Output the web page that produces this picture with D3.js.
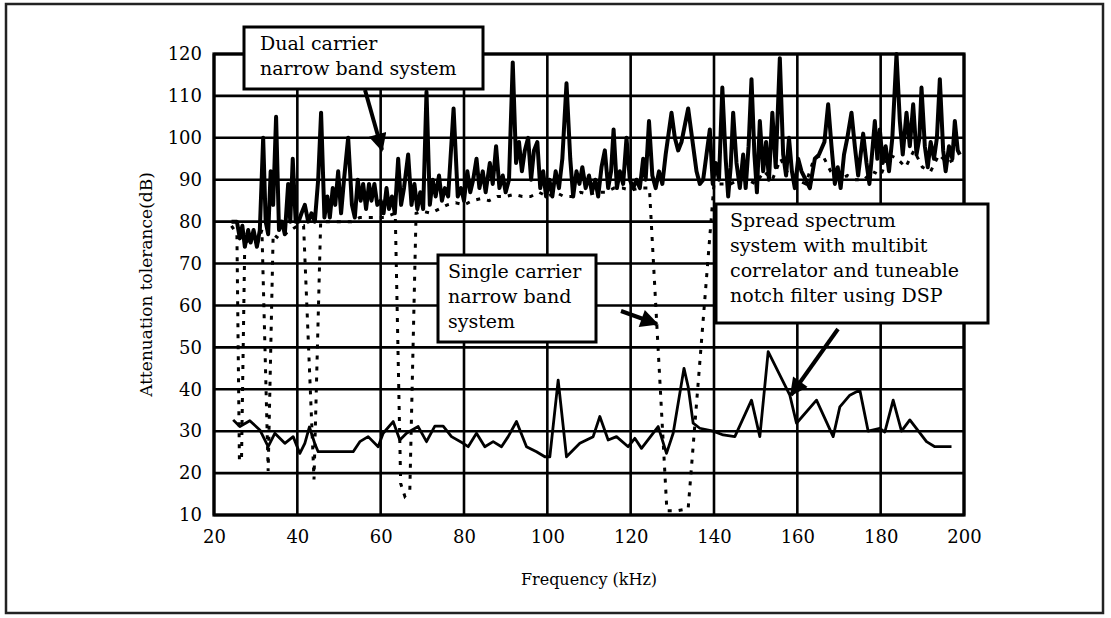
<!DOCTYPE html>
<html>
<head>
<meta charset="utf-8">
<script src="https://cdn.jsdelivr.net/npm/d3@7"></script>
<style>
  body { margin: 0; background: #fff; }
  text { font-family: "DejaVu Serif", serif; fill: #000; }
</style>
</head>
<body>
<div id="chart"></div>
<script>
// Data
const xTicks = [20, 40, 60, 80, 100, 120, 140, 160, 180, 200]
const yTicks = [10, 20, 30, 40, 50, 60, 70, 80, 90, 100, 110, 120]

// dual carrier narrow band system (solid, thick)
const dualFreq = [24.2,25.5,26.2,26.8,27.4,28.2,28.8,29.5,30.3,31.0,31.8,32.4,33.0,33.6,34.2,34.9,35.6,36.3,37.0,37.8,38.3,38.9,39.6,40.3,41.0,41.8,42.6,43.4,44.2,45.0,45.7,46.5,47.2,47.8,48.5,49.1,49.8,50.5,51.2,52.2,53.1,53.8,54.5,55.2,55.8,56.5,57.2,57.8,58.5,59.2,60.0,60.7,61.4,62.0,62.7,63.4,64.2,64.9,65.6,66.6,67.4,68.1,68.8,69.5,70.2,71.0,71.8,72.5,73.2,74.0,74.7,75.4,76.2,77.5,78.5,79.3,80.0,80.8,81.5,82.2,83.0,83.7,84.5,85.2,86.2,86.9,87.7,88.5,89.3,90.0,90.8,91.7,92.5,93.2,93.9,94.6,95.4,96.1,96.8,97.6,98.3,99.0,99.7,100.5,101.2,102.0,102.8,103.6,104.6,105.5,106.2,107.0,107.7,108.4,109.2,110.0,110.7,111.5,112.2,113.0,113.8,114.6,115.3,115.9,116.7,117.4,118.2,119.0,119.8,120.6,121.4,122.2,123.0,123.6,124.4,125.2,126.0,126.8,127.6,128.4,129.8,130.6,131.4,132.2,133.8,135.0,135.8,136.6,137.4,138.2,139.0,139.7,140.4,141.2,142.0,142.8,143.4,144.0,144.6,145.4,146.2,147.0,147.6,148.3,149.0,149.7,150.3,151.0,151.8,152.5,153.2,154.0,154.8,155.8,156.6,157.3,158.0,158.7,159.4,160.2,161.0,162.0,163.0,164.2,165.2,166.5,167.4,168.2,169.0,169.7,170.4,171.2,172.0,173.0,173.8,174.6,175.8,176.6,177.3,178.0,178.6,179.2,179.8,180.5,181.2,182.0,182.8,183.8,184.6,185.3,186.2,187.0,187.8,188.6,189.3,189.8,190.6,191.3,192.0,192.8,193.5,194.2,195.0,195.6,196.4,197.2,197.8,198.5,199.0]
const dualVal = [80,80,76,79,74,78,75,78,74,78,100,80,77,92,84,105,78,80,77,89,80,95,80,80,82,84,80,82,80,90,106,81,86,81,88,84,92,82,90,100,84,81,90,85,89,83,89,85,89,84,85,82,88,83,86,82,95,84,88,96,84,89,83,87,83,111,84,90,86,91,85,88,86,107,86,88,85,92,87,90,95,88,92,87,94,89,98,88,91,87,90,118,94,99,92,97,100,90,97,99,88,92,86,90,86,92,88,95,113,95,86,92,89,93,88,91,87,90,86,93,97,88,92,102,88,92,89,100,90,88,90,88,95,90,104,91,88,92,89,96,106,100,97,99,107,98,92,89,90,96,102,89,94,90,112,95,86,93,106,94,88,96,88,98,114,96,87,104,92,99,90,106,93,119,96,91,100,92,88,95,92,90,88,95,96,99,108,98,89,93,88,96,100,106,98,91,101,94,89,97,104,95,102,94,98,92,100,120,104,96,106,98,108,96,100,112,98,93,99,95,100,114,97,92,98,95,104,97,96]

// single carrier narrow band system (dotted)
const singleFreq = [24.2,25.5,26.1,26.6,27.4,28.5,29.5,30.5,31.5,33.0,34.2,35.5,37.0,38.5,40.0,41.5,44.0,45.6,47.0,49.0,51.0,53.0,55.0,57.0,59.0,61.0,63.5,64.8,65.8,67.0,68.5,70.0,72.0,74.0,76.0,78.0,80.0,82.0,84.0,86.0,88.0,90.0,92.0,94.0,96.0,98.0,100.0,102.0,104.0,106.0,108.0,110.0,112.0,114.0,116.0,118.0,120.0,122.0,124.5,128.7,131.0,133.8,140.0,142.0,144.0,146.0,148.0,150.0,152.0,154.0,156.0,158.0,160.0,162.0,164.0,166.0,168.0,170.0,172.0,174.0,176.0,178.0,180.0,182.0,184.0,186.0,188.0,190.0,192.0,194.0,196.0,198.0]
const singleVal = [79,77,23,23,76,75,77,75,78,20.5,77,76,77,78,79,79,18.5,80,80,80,80,80,81,81,81,81,82,17.5,14.5,16,82,82.5,82,83,84,84.5,84,85,85.5,85,86,86,86.5,86,86,87,86,87,86,86,87,86.5,87,87,88,88,87.5,88,88,11,11,11.5,89,89,89,90,90,89,92,90,95,91,90,89,95,96,92,90,91,90,90,92,91,96,95,93,97,93,92,96,94,95]

// spread spectrum system (solid, thinner)
const spreadFreq = [24.6,26.2,28.6,31.0,33.0,34.6,37.0,39.0,40.6,41.8,42.9,44.2,45.0,48.0,53.4,55.0,57.0,59.4,60.6,63.0,64.6,66.2,69.0,71.0,73.0,75.0,77.0,79.8,81.0,83.0,85.0,87.0,89.0,90.6,92.6,95.0,97.4,99.4,100.6,102.6,104.6,107.8,111.0,112.6,114.6,116.6,119.4,121.0,122.6,126.6,128.6,130.2,132.8,133.8,135.0,136.6,139.8,142.2,145.0,149.0,151.0,153.0,158.2,159.8,164.6,168.6,170.2,172.6,175.0,177.0,179.8,181.0,183.0,185.0,187.0,191.0,193.0,197.0]
const spreadVal = [32.7,31.1,32.5,30.3,26.3,29.5,27.1,28.7,24.7,27.1,31.0,27.0,25.1,25.1,25.1,27.5,28.7,26.3,29.5,32.3,27.9,29.5,31.1,27.5,31.2,31.2,28.7,27.1,26.3,29.5,26.3,27.5,26.3,28.7,32.3,26.3,25.1,23.9,23.9,42.2,23.9,27.1,28.7,33.5,27.9,28.7,26.3,28.3,25.9,31.1,24.7,29.5,45.0,40.6,31.9,30.7,30.0,29.1,28.7,37.4,28.7,49.0,38.6,31.9,37.4,28.7,35.8,38.6,39.8,30.0,30.7,29.8,37.4,30.0,32.7,27.5,26.3,26.3]

// Dimensions
let dimensions = {
  width: 1111,
  height: 618,
  margin: { top: 54, bottom: 103, left: 214, right: 147 }
}

const svg = d3.select('#chart')
              .append('svg')
              .attr('width', dimensions.width)
              .attr('height', dimensions.height)

// outer frame
svg.append('rect')
   .attr('x', 6).attr('y', 4)
   .attr('width', 1097).attr('height', 609)
   .attr('fill', 'none')
   .attr('stroke', '#222')
   .attr('stroke-width', 2.5)

const containerWidth = dimensions.width - dimensions.margin.left - dimensions.margin.right
const containerHeight = dimensions.height - dimensions.margin.top - dimensions.margin.bottom

const container = svg.append('g')
                     .attr('transform', `translate(${dimensions.margin.left},${dimensions.margin.top})`)

// Scales
const xScale = d3.scaleLinear().domain([20, 200]).range([0, containerWidth])
const yScale = d3.scaleLinear().domain([10, 120]).range([containerHeight, 0])

// Grid
container.append('g')
         .selectAll('line')
         .data(xTicks)
         .join('line')
         .attr('x1', d => xScale(d)).attr('x2', d => xScale(d))
         .attr('y1', 0).attr('y2', containerHeight)
         .attr('stroke', '#000')
         .attr('stroke-width', 2.6)

container.append('g')
         .selectAll('line')
         .data(yTicks)
         .join('line')
         .attr('x1', 0).attr('x2', containerWidth)
         .attr('y1', d => yScale(d)).attr('y2', d => yScale(d))
         .attr('stroke', '#000')
         .attr('stroke-width', 2.6)

container.append('rect')
         .attr('width', containerWidth)
         .attr('height', containerHeight)
         .attr('fill', 'none')
         .attr('stroke', '#000')
         .attr('stroke-width', 3.2)

// Axes (labels only, grid does the lines)
const xAxis = d3.axisBottom(xScale).tickValues(xTicks).tickSize(0).tickPadding(15)
container.append('g')
         .attr('transform', `translate(0,${containerHeight})`)
         .call(xAxis)
         .call(g => g.select('.domain').remove())
         .selectAll('text')
         .attr('font-family', 'DejaVu Serif')
         .attr('font-size', '18px')
         .attr('fill', '#000')

const yAxis = d3.axisLeft(yScale).tickValues(yTicks).tickSize(0).tickPadding(12)
container.append('g')
         .call(yAxis)
         .call(g => g.select('.domain').remove())
         .selectAll('text')
         .attr('font-family', 'DejaVu Serif')
         .attr('font-size', '18px')
         .attr('fill', '#000')

// Axis titles
container.append('text')
         .attr('x', containerWidth / 2)
         .attr('y', containerHeight + 70)
         .attr('text-anchor', 'middle')
         .attr('font-size', '16px')
         .text('Frequency (kHz)')

container.append('text')
         .attr('x', -containerHeight / 2)
         .attr('y', -62)
         .attr('text-anchor', 'middle')
         .attr('transform', 'rotate(-90)')
         .attr('font-size', '17px')
         .text('Attenuation tolerance(dB)')

// Lines
const line = d3.line().x(d => xScale(d[0])).y(d => yScale(d[1]))

container.append('path')
         .datum(d3.zip(singleFreq, singleVal))
         .attr('d', line)
         .attr('fill', 'none')
         .attr('stroke', '#000')
         .attr('stroke-width', 3)
         .attr('stroke-dasharray', '4,7')

container.append('path')
         .datum(d3.zip(spreadFreq, spreadVal))
         .attr('d', line)
         .attr('fill', 'none')
         .attr('stroke', '#000')
         .attr('stroke-width', 2.8)
         .attr('stroke-linejoin', 'round')

container.append('path')
         .datum(d3.zip(dualFreq, dualVal))
         .attr('d', line)
         .attr('fill', 'none')
         .attr('stroke', '#000')
         .attr('stroke-width', 4)
         .attr('stroke-linejoin', 'round')

// Annotations
svg.append('defs').append('marker')
   .attr('id', 'head')
   .attr('viewBox', '0 0 10 10')
   .attr('refX', 9).attr('refY', 5)
   .attr('markerWidth', 5).attr('markerHeight', 4.5)
   .attr('orient', 'auto')
   .append('path')
   .attr('d', 'M0,0 L10,5 L0,10 Z')
   .attr('fill', '#000')

function note(x, y, w, h, lines, tx) {
  svg.append('rect')
     .attr('x', x).attr('y', y)
     .attr('width', w).attr('height', h)
     .attr('fill', '#fff')
     .attr('stroke', '#000')
     .attr('stroke-width', 3)
  svg.append('text')
     .attr('font-size', '19px')
     .selectAll('tspan')
     .data(lines)
     .join('tspan')
     .attr('x', x + tx)
     .attr('y', (d, i) => y + 23 + i * 25)
     .text(d => d)
}

function arrow(x1, y1, x2, y2) {
  svg.append('line')
     .attr('x1', x1).attr('y1', y1)
     .attr('x2', x2).attr('y2', y2)
     .attr('stroke', '#000')
     .attr('stroke-width', 4)
     .attr('marker-end', 'url(#head)')
}

note(244, 27, 239, 62, ['Dual carrier', 'narrow band system'], 16)
arrow(365, 90, 382, 150)

note(438, 255, 158, 87, ['Single carrier', 'narrow band', 'system'], 10)
arrow(621, 311, 657, 324)

note(716, 204, 272, 119, ['Spread spectrum', 'system with multibit', 'correlator and tuneable', 'notch filter using DSP'], 14)
arrow(838, 329, 791, 395)
</script>
</body>
</html>
